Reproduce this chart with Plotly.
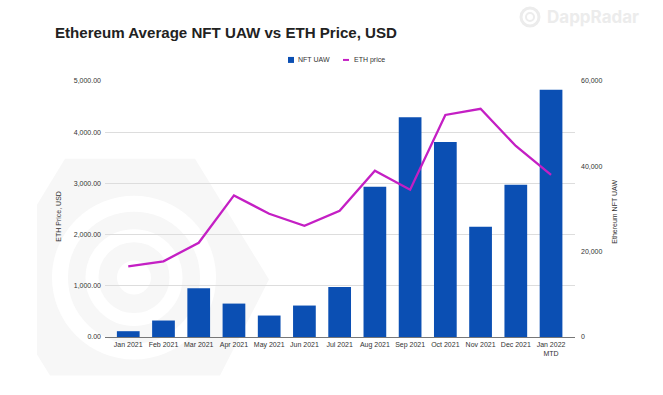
import plotly.graph_objects as go

categories = ["Jan 2021", "Feb 2021", "Mar 2021", "Apr 2021", "May 2021", "Jun 2021", "Jul 2021",
              "Aug 2021", "Sep 2021", "Oct 2021", "Nov 2021", "Dec 2021", "Jan 2022<br>MTD"]
nft_uaw = [1360, 3860, 11400, 7830, 5030, 7370, 11700, 35200, 51460, 45700, 25850, 35670, 57900]
eth_price = [1380, 1478, 1840, 2765, 2405, 2170, 2465, 3245, 2875, 4335, 4455, 3730, 3165]
left_ticks = [0, 1000, 2000, 3000, 4000, 5000]
right_ticks = [0, 20000, 40000, 60000]

W, H = 663, 395
L, R, T0, T, B = 105, 575, 20, 81, 337.5
FONT = "Liberation Sans"
TXT = "#333333"
BLUE, PINK, MARK = "#0b4fb3", "#c41fc4", "#ececec"

def px(x): return (x - L) / (R - L)
def py(y): return (B - y) / (B - T0)

fig = go.Figure()
fig.add_trace(go.Bar(x=list(range(13)), y=nft_uaw, name="NFT UAW", marker=dict(color=BLUE, line=dict(width=0)),
                     width=0.645, yaxis="y"))
fig.add_trace(go.Scatter(x=list(range(13)), y=eth_price, name="ETH price", mode="lines",
                         line=dict(color=PINK, width=2.3), yaxis="y2"))

# watermark
hexagon = [(65,159),(195,159),(269,280),(220,376),(50,376),(37,355),(37,205)]
path = "M " + " L ".join(f"{px(a):.4f},{py(b):.4f}" for a, b in hexagon) + " Z"
shapes = [dict(type="path", xref="paper", yref="paper", path=path, fillcolor="#f7f7f7", line=dict(width=0), layer="below")]
cx, cy = 134, 278
for r, w in [(74, 16), (42, 13)]:
    shapes.append(dict(type="circle", xref="paper", yref="paper", x0=px(cx-r), x1=px(cx+r), y0=py(cy+r), y1=py(cy-r),
                       line=dict(color="#ffffff", width=w), fillcolor="rgba(0,0,0,0)", layer="below"))
shapes.append(dict(type="circle", xref="paper", yref="paper", x0=px(cx-17), x1=px(cx+17), y0=py(cy+17), y1=py(cy-17),
                   line=dict(width=0), fillcolor="#ffffff", layer="below"))
# DappRadar mark
shapes.append(dict(type="circle", xref="paper", yref="paper", x0=px(521), x1=px(539), y0=py(26), y1=py(8),
                   line=dict(color=MARK, width=3), fillcolor="rgba(0,0,0,0)"))
shapes.append(dict(type="circle", xref="paper", yref="paper", x0=px(526), x1=px(534), y0=py(21), y1=py(13),
                   line=dict(color=MARK, width=2), fillcolor="rgba(0,0,0,0)"))
# legend keys
shapes.append(dict(type="rect", xref="paper", yref="paper", x0=px(288), x1=px(294), y0=py(63), y1=py(57),
                   line=dict(width=0), fillcolor=BLUE))
shapes.append(dict(type="line", xref="paper", yref="paper", x0=px(343), x1=px(349), y0=py(60), y1=py(60),
                   line=dict(color=PINK, width=2)))

def note(text, x, y, anchor="left", size=7, color=TXT, angle=0, **kw):
    return dict(text=text, xref="paper", yref="paper", x=px(x), y=py(y), xanchor=anchor, yanchor="middle",
                showarrow=False, textangle=angle, font=dict(family=kw.get("family", FONT), size=size, color=color,
                                                            weight=kw.get("weight", "normal")))

tick_font = dict(family=FONT, size=7, color=TXT)
fig.update_layout(
    template="none",
    width=W, height=H, margin=dict(l=L, r=W-R, t=T0, b=H-B, pad=0),
    paper_bgcolor="#ffffff", plot_bgcolor="rgba(0,0,0,0)", showlegend=False,
    font=dict(family=FONT, size=7, color=TXT),
    title=dict(text="Ethereum Average NFT UAW vs ETH Price, USD", x=55/W, xanchor="left", y=1-33/H, yanchor="middle",
               font=dict(family=FONT, size=15.1, color="#222222", weight="bold")),
    xaxis=dict(tickmode="array", tickvals=list(range(13)), ticktext=categories, range=[-0.66, 12.68],
               showgrid=False, showline=False, zeroline=False, ticks="", ticklabelstandoff=2,
               tickfont=tick_font, tickangle=0),
    yaxis=dict(side="right", range=[0, 60000], domain=[0, (B-T)/(B-T0)], tickmode="array", tickvals=right_ticks,
               tickformat=",d", showgrid=False, zeroline=True, zerolinecolor="#777777", zerolinewidth=1, ticks="",
               showline=False, ticklabelstandoff=5, tickfont=tick_font),
    yaxis2=dict(side="left", overlaying="y", range=[0, 5000], tickmode="array", tickvals=left_ticks, tickformat=",.2f",
                showgrid=True, gridcolor="#dddddd", gridwidth=1, zeroline=False, ticks="", showline=False,
                ticklabelstandoff=3, tickfont=tick_font),
    shapes=shapes,
    annotations=[
        note("DappRadar", 545, 17, size=17, color=MARK, family="Inter", weight="bold"),
        note("NFT UAW", 296, 60),
        note("ETH price", 352, 60),
        note("ETH Price, USD", 59, 217, anchor="center", angle=-90),
        note("Ethereum NFT UAW", 615, 212, anchor="center", angle=-90),
    ],
)
fig.write_html("out.html", post_script="document.body.style.margin='0';", config={"displayModeBar": False})
